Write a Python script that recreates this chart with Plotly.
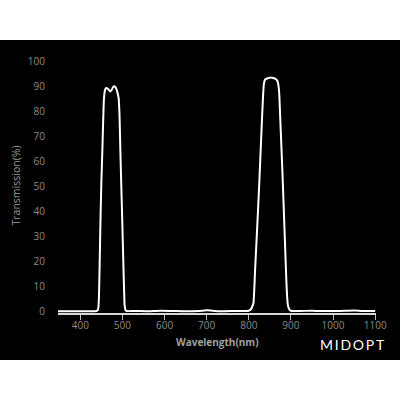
import plotly.graph_objects as go

# ---- data ----
wavelength = [347, 360, 380, 400, 420, 438, 442, 444, 446, 448, 450, 452, 454, 456, 458, 461, 464, 467, 471, 475, 478, 481, 484, 487, 489, 491, 493, 495, 497, 499, 501, 503, 504, 505, 507, 510, 530, 560, 590, 620, 650, 680, 700, 710, 720, 740, 770, 790, 800, 805, 808, 811, 815, 820, 825, 830, 834, 836, 839, 845, 852, 858, 864, 868, 870, 872, 875, 880, 885, 889, 891, 893, 896, 900, 920, 950, 970, 1000, 1030, 1050, 1070, 1100]
transmission = [0.2, 0.2, 0.2, 0.2, 0.2, 0.3, 0.8, 5, 20, 38, 52, 63, 75, 85, 88.3, 89.6, 89.4, 89.0, 88.2, 89.0, 90.0, 90.3, 89.8, 88.5, 87.2, 85.5, 79, 65, 52, 40, 27, 14, 8, 3, 0.8, 0.3, 0.3, 0.2, 0.4, 0.3, 0.2, 0.3, 0.6, 0.5, 0.3, 0.2, 0.3, 0.3, 0.4, 1.0, 2.0, 3.4, 17, 34, 52, 72, 87, 91.5, 93.0, 93.5, 93.8, 93.6, 93.2, 92.4, 91.0, 88, 76, 55, 32, 13, 6, 2.5, 1.0, 0.4, 0.3, 0.4, 0.3, 0.3, 0.4, 0.5, 0.3, 0.3]

x_ticks = [400, 500, 600, 700, 800, 900, 1000, 1100]
y_ticks = [0, 10, 20, 30, 40, 50, 60, 70, 80, 90, 100]

W, H = 400, 400
L, R, T, B = 58, 24, 52, 87
PW, PH = W - L - R, H - T - B


def px_x(px):
    return (px - L) / PW


def px_y(py):
    return 1 - (py - T) / PH


fig = go.Figure()
fig.add_trace(go.Scatter(x=wavelength, y=transmission, mode="lines",
                         line=dict(color="#ffffff", width=2, shape="spline", smoothing=0.5),
                         hoverinfo="skip"))

fig.update_layout(
    width=W, height=H,
    margin=dict(l=L, r=R, t=T, b=B, pad=0),
    paper_bgcolor="#ffffff", plot_bgcolor="#000000",
    showlegend=False,
    font=dict(family="Open Sans", color="#888888"),
    xaxis=dict(range=[347, 1102], tickvals=x_ticks, showgrid=False, zeroline=False,
               showline=True, linecolor="#d8d8d8", linewidth=1.5,
               ticks="outside", ticklen=5, tickcolor="#bbbbbb", tickwidth=1,
               ticklabelstandoff=-3,
               tickfont=dict(size=10, color="#8a8a8a", family="Open Sans")),
    yaxis=dict(range=[-0.5, 104], tickvals=y_ticks, showgrid=False, zeroline=False,
               showline=False, ticks="", ticklabelstandoff=12,
               tickfont=dict(size=10, color="#8a8a8a", family="Open Sans")),
    shapes=[dict(type="rect", xref="paper", yref="paper", layer="below",
                 x0=px_x(0), x1=px_x(400), y0=px_y(360), y1=px_y(40),
                 fillcolor="#000000", line=dict(width=0))],
    annotations=[
        dict(text="Transmission(%)", xref="paper", yref="paper",
             x=px_x(15), y=px_y(185.5), textangle=-90, showarrow=False,
             xanchor="center", yanchor="middle",
             font=dict(size=10.5, color="#9a9a9a", family="Open Sans")),
        dict(text="<b>Wavelength(nm)</b>", xref="paper", yref="paper",
             x=px_x(217.5), y=px_y(342), showarrow=False,
             xanchor="center", yanchor="middle",
             font=dict(size=10, color="#a0a0a0", family="Open Sans")),
        dict(text="M\u2009I\u2009D\u2009O\u2009P\u2009T", xref="paper", yref="paper",
             x=px_x(352.5), y=px_y(344), showarrow=False,
             xanchor="center", yanchor="middle",
             font=dict(size=14, color="#ffffff", family="Lato")),
    ],
)

fig.write_html("out.html", config={"displayModeBar": False},
               post_script="document.body.style.margin='0';document.body.style.padding='0';")
